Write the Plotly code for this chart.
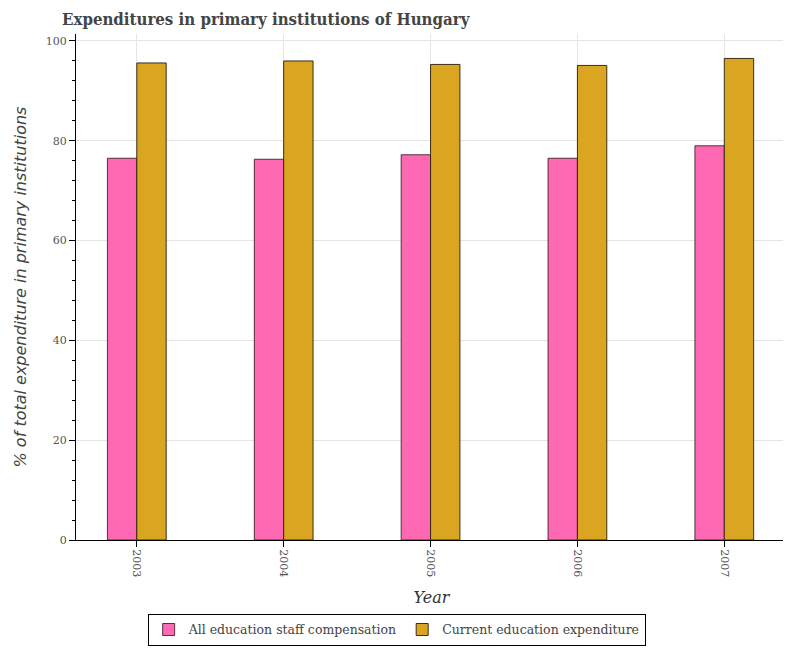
import plotly.graph_objects as go

years = ["2003", "2004", "2005", "2006", "2007"]
staff_comp = [76.5, 76.3, 77.2, 76.5, 79.0]
current_exp = [95.6, 96.0, 95.3, 95.1, 96.5]

fig = go.Figure()
fig.add_trace(go.Bar(
    x=years, y=staff_comp, name="All education staff compensation",
    marker=dict(color="#FF69B4", line=dict(color="rgba(40,20,20,0.8)", width=1)),
    offset=-0.2, width=0.2,
))
fig.add_trace(go.Bar(
    x=years, y=current_exp, name="Current education expenditure",
    marker=dict(color="#DAA520", line=dict(color="rgba(40,30,10,0.9)", width=1)),
    offset=0, width=0.2,
))

# page body has an 8px default margin, so layout is offset by -8px
fig.update_layout(
    width=791, height=650,
    margin=dict(l=54, r=12, t=26, b=118),
    paper_bgcolor="white", plot_bgcolor="white",
    title=dict(text="<b>Expenditures in primary institutions of Hungary</b>",
               x=54/791, xanchor="left", y=1 - 11/650, yanchor="middle",
               font=dict(family="DejaVu Serif Condensed", size=16.7, color="#444444")),
    barmode="overlay",
    showlegend=True,
    legend=dict(orientation="h", x=0.451, xanchor="center", y=-0.146, yanchor="top",
                bordercolor="black", borderwidth=1, itemwidth=30,
                font=dict(family="DejaVu Serif", size=12.5, color="#444444"),
                traceorder="normal"),
    font=dict(family="DejaVu Serif", color="#555555"),
)
fig.update_xaxes(
    type="category", range=[-0.414, 4.427],
    tickangle=90, ticks="outside", ticklen=6, tickcolor="black",
    showline=True, linecolor="black", linewidth=1,
    showgrid=True, gridcolor="#e5e5e5",
    tickfont=dict(family="DejaVu Serif", size=11, color="#555555"),
    title=dict(text="<i>Year</i>", font=dict(family="DejaVu Serif", size=16, color="#333333")),
)
fig.update_yaxes(
    range=[0, 101.4], dtick=20, ticks="outside", ticklen=6, tickcolor="black",
    showline=True, linecolor="black", linewidth=1,
    showgrid=True, gridcolor="#e5e5e5", zeroline=False,
    minor=dict(dtick=4, ticks="outside", ticklen=3, tickcolor="black", showgrid=False),
    tickfont=dict(family="DejaVu Serif", size=11, color="#555555"),
    title=dict(text="<i>% of total expenditure in primary institutions</i>",
               font=dict(family="DejaVu Sans", size=16, color="#444444")),
)

fig.write_html("out.html")
